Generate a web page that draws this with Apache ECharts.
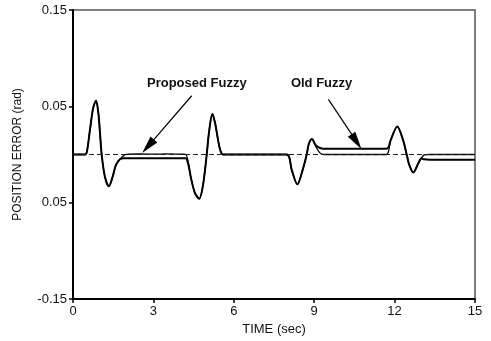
<!DOCTYPE html>
<html>
<head>
<meta charset="utf-8">
<script src="https://cdn.jsdelivr.net/npm/echarts@6/dist/echarts.min.js"></script>
<style>
html,body{margin:0;padding:0;background:#fff;}
#chart{width:491px;height:341px;}
</style>
</head>
<body>
<div id="chart"></div>
<script>
// ---- data ----
const time = [0, 0.45, 0.52, 0.63, 0.75, 0.86, 0.95, 1.0, 1.07, 1.19, 1.34, 1.48, 1.6, 1.75, 1.9, 2.0, 2.5, 3.0, 3.5, 4.0, 4.2, 4.3, 4.4, 4.55, 4.71, 4.85, 4.99, 5.07, 5.2, 5.3, 5.4, 5.5, 5.6, 7.97, 8.16, 8.37, 8.57, 8.72, 8.8, 8.92, 9.05, 9.2, 9.35, 11.7, 11.78, 11.85, 12.1, 12.32, 12.45, 12.55, 12.7, 12.88, 13.0, 13.1, 13.3, 15];
const proposed = [0, 0, 0.003, 0.025, 0.048, 0.056, 0.042, 0.025, 0.0, -0.023, -0.033, -0.023, -0.011, -0.005, -0.001, 0.0002, 0.0005, 0.0003, 0.0006, 0.0003, 0.0002, -0.008, -0.024, -0.04, -0.046, -0.032, 0, 0.022, 0.042, 0.033, 0.017, 0.004, 0, 0, -0.016, -0.031, -0.016, 0, 0.011, 0.016, 0.009, 0.002, 0, 0, 0.004, 0.0146, 0.029, 0.0146, 0, -0.011, -0.0187, -0.0094, -0.004, -0.0005, 0, 0];
const oldFuzzy = [0, 0, 0.003, 0.025, 0.048, 0.056, 0.042, 0.025, 0.0, -0.023, -0.033, -0.023, -0.011, -0.005, -0.004, -0.004, -0.004, -0.004, -0.004, -0.004, -0.004, -0.01, -0.024, -0.04, -0.046, -0.032, 0, 0.022, 0.042, 0.033, 0.017, 0.004, 0, 0, -0.016, -0.031, -0.016, 0, 0.011, 0.016, 0.010, 0.007, 0.006, 0.006, 0.008, 0.0146, 0.029, 0.0146, 0, -0.011, -0.0187, -0.0094, -0.004, -0.005, -0.0055, -0.0055];

const xTicks = [0, 3, 6, 9, 12, 15];
const xTickLabels = ['0', '3', '6', '9', '12', '15'];
const yTicks = [-0.15, -0.05, 0.05, 0.15];
const yTickLabels = ['-0.15', '0.05', '0.05', '0.15'];

const annoTexts = ['Proposed Fuzzy', 'Old Fuzzy'];
const annoTextAt = [[2.76, 0.0735], [8.13, 0.0735]];
const arrowFrom = [[4.43, 0.061], [9.53, 0.0573]];
const arrowTo = [[2.8, 0.0085], [10.58, 0.0133]];

// ---- chart ----
const FONT = 'Liberation Sans, Arial, Helvetica, sans-serif';
const chart = echarts.init(document.getElementById('chart'), null, {renderer: 'canvas'});

const pairs = (xs, ys) => xs.map((x, i) => [x, ys[i]]);
const arrowPath = 'path://M5,0 L10,20 L0,20 Z';

const markLineData = [
  {yAxis: 0, lineStyle: {type: [5, 3], width: 1, color: '#222'}}
];
for (let i = 0; i < arrowFrom.length; i++) {
  markLineData.push([
    {coord: arrowFrom[i], symbol: 'none', lineStyle: {type: 'solid', width: 1.2, color: '#000'}},
    {coord: arrowTo[i], symbol: arrowPath, symbolSize: [9, 18], itemStyle: {color: '#000'}}
  ]);
}

chart.setOption({
  animation: false,
  backgroundColor: '#fff',
  grid: {
    left: 73, right: 16, top: 10, bottom: 39,
    show: true, borderColor: '#555', borderWidth: 1.5, backgroundColor: 'transparent'
  },
  xAxis: {
    type: 'value', min: 0, max: 15,
    name: 'TIME (sec)', nameLocation: 'middle', nameGap: 24,
    nameTextStyle: {fontFamily: FONT, fontSize: 13, color: '#111'},
    axisLine: {show: true, onZero: false, lineStyle: {color: '#000', width: 2}},
    axisTick: {show: true, length: 4, lineStyle: {color: '#000', width: 1.5}, customValues: xTicks},
    axisLabel: {
      fontFamily: FONT, fontSize: 13, color: '#111', margin: 6,
      customValues: xTicks,
      formatter: v => { const i = xTicks.findIndex(t => Math.abs(t - v) < 1e-9); return i >= 0 ? xTickLabels[i] : ''; }
    },
    splitLine: {show: false}
  },
  yAxis: {
    type: 'value', min: -0.15, max: 0.15,
    name: 'POSITION ERROR (rad)', nameLocation: 'middle', nameGap: 49,
    nameTextStyle: {fontFamily: FONT, fontSize: 12, color: '#111'},
    axisLine: {show: true, onZero: false, lineStyle: {color: '#000', width: 2}},
    axisTick: {show: true, length: 4, lineStyle: {color: '#000', width: 1.5}, customValues: yTicks},
    axisLabel: {
      fontFamily: FONT, fontSize: 13, color: '#111', margin: 6,
      customValues: yTicks,
      formatter: v => { const i = yTicks.findIndex(t => Math.abs(t - v) < 1e-9); return i >= 0 ? yTickLabels[i] : ''; }
    },
    splitLine: {show: false}
  },
  series: [
    {
      name: 'Old Fuzzy', type: 'line', data: pairs(time, oldFuzzy),
      showSymbol: false, smooth: 0.3, z: 2,
      lineStyle: {color: '#000', width: 2}
    },
    {
      name: 'Proposed Fuzzy', type: 'line', data: pairs(time, proposed),
      showSymbol: false, smooth: 0.3, z: 3,
      lineStyle: {color: '#000', width: 1.3},
      markLine: {silent: true, symbol: 'none', animation: false, label: {show: false}, data: markLineData},
      markPoint: {
        silent: true, symbol: 'circle', symbolSize: 0, animation: false,
        label: {show: true, position: 'right', distance: 0, formatter: '{b}',
                fontFamily: FONT, fontSize: 13, fontWeight: 'bold', color: '#111'},
        data: annoTexts.map((t, i) => ({name: t, coord: annoTextAt[i]}))
      }
    }
  ]
});
</script>
</body>
</html>
